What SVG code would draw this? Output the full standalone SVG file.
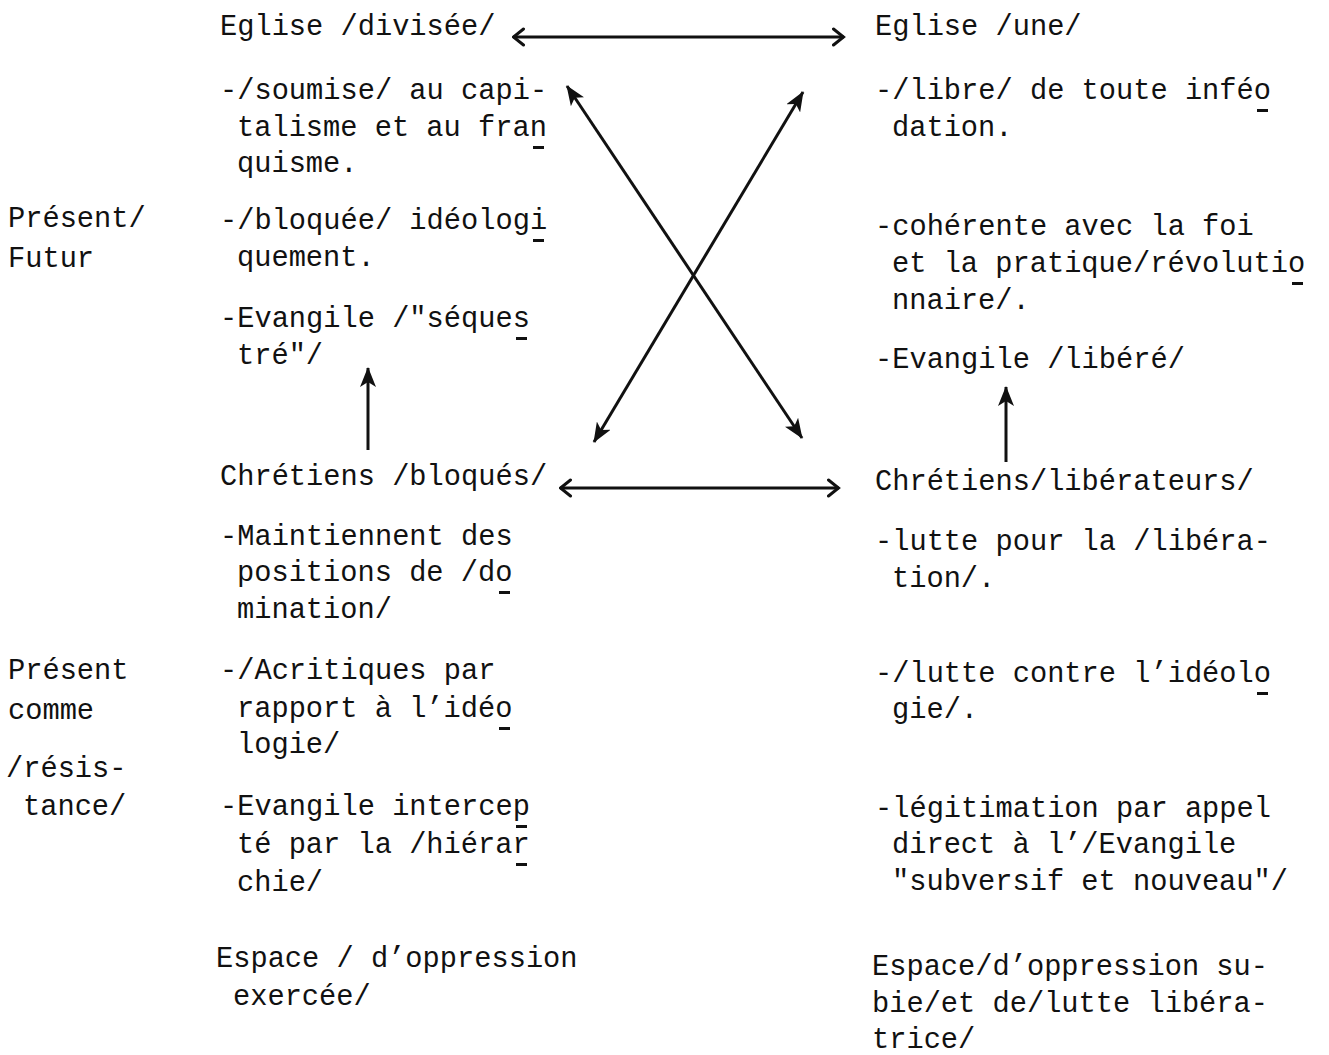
<svg xmlns="http://www.w3.org/2000/svg" width="1329" height="1055" viewBox="0 0 1329 1055">
<style>
text{font-family:"Liberation Mono","DejaVu Sans Mono",monospace;font-size:28.7px;fill:#111;}
.cn line{stroke:#111;stroke-width:3;fill:none;}
.u{fill:#111;}
</style>
<defs>
<marker id="chev" viewBox="0 0 14 20" refX="12.5" refY="10" markerWidth="14" markerHeight="20" markerUnits="userSpaceOnUse" orient="auto-start-reverse">
<path d="M2,2 L12,10 L2,18" fill="none" stroke="#111" stroke-width="3" stroke-linecap="round"/>
</marker>
<marker id="barb" viewBox="0 0 20 16" refX="19" refY="8" markerWidth="20" markerHeight="16" markerUnits="userSpaceOnUse" orient="auto-start-reverse">
<path d="M0,0 L20,8 L0,16 L5,8 z" fill="#111"/>
</marker>
</defs>
<rect width="1329" height="1055" fill="#fff"/>

<g id="label-present-futur">
<text x="8" y="227">Présent/</text>
<text x="8" y="267">Futur</text>
</g>

<g id="label-present-resistance">
<text x="8" y="679">Présent</text>
<text x="8" y="719">comme</text>
<text x="6" y="777">/résis-</text>
<text x="23" y="815">tance/</text>
</g>

<g id="eglise-divisee">
<text x="220" y="35">Eglise /divisée/</text>
<text x="220" y="99">-/soumise/ au capi-</text>
<text x="237" y="136">talisme et au fran</text>
<text x="237" y="172">quisme.</text>
<text x="220" y="229">-/bloquée/ idéologi</text>
<text x="237" y="266">quement.</text>
<text x="220" y="327">-Evangile /&quot;séques</text>
<text x="237" y="364">tré&quot;/</text>
<rect class="u" x="533" y="146" width="11" height="3"/>
<rect class="u" x="533" y="239" width="11" height="3"/>
<rect class="u" x="516" y="337" width="11" height="3"/>
</g>

<g id="eglise-une">
<text x="875" y="35">Eglise /une/</text>
<text x="875" y="99">-/libre/ de toute inféo</text>
<text x="892" y="136">dation.</text>
<text x="875" y="235">-cohérente avec la foi</text>
<text x="892" y="272">et la pratique/révolutio</text>
<text x="892" y="309">nnaire/.</text>
<text x="875" y="368">-Evangile /libéré/</text>
<rect class="u" x="1257" y="109" width="11" height="3"/>
<rect class="u" x="1292" y="282" width="11" height="3"/>
</g>

<g id="chretiens-bloques">
<text x="220" y="485">Chrétiens /bloqués/</text>
<text x="220" y="545">-Maintiennent des</text>
<text x="237" y="581">positions de /do</text>
<text x="237" y="618">mination/</text>
<text x="220" y="679">-/Acritiques par</text>
<text x="237" y="717">rapport à l’idéo</text>
<text x="237" y="753">logie/</text>
<text x="220" y="815">-Evangile intercep</text>
<text x="237" y="853">té par la /hiérar</text>
<text x="237" y="891">chie/</text>
<rect class="u" x="499" y="591" width="11" height="3"/>
<rect class="u" x="499" y="727" width="11" height="3"/>
<rect class="u" x="516" y="825" width="11" height="3"/>
<rect class="u" x="516" y="863" width="11" height="3"/>
</g>

<g id="chretiens-liberateurs">
<text x="875" y="490">Chrétiens/libérateurs/</text>
<text x="875" y="550">-lutte pour la /libéra-</text>
<text x="892" y="587">tion/.</text>
<text x="875" y="682">-/lutte contre l’idéolo</text>
<text x="892" y="718">gie/.</text>
<text x="875" y="817">-légitimation par appel</text>
<text x="892" y="853">direct à l’/Evangile</text>
<text x="892" y="890">&quot;subversif et nouveau&quot;/</text>
<rect class="u" x="1257" y="692" width="11" height="3"/>
</g>

<g id="espace-oppression-exercee">
<text x="216" y="967">Espace / d’oppression</text>
<text x="233" y="1005">exercée/</text>
</g>

<g id="espace-oppression-subie">
<text x="872" y="975">Espace/d’oppression su-</text>
<text x="872" y="1012">bie/et de/lutte libéra-</text>
<text x="872" y="1048">trice/</text>
</g>

<g id="connectors" class="cn">
<line x1="513" y1="37" x2="844" y2="37" marker-start="url(#chev)" marker-end="url(#chev)"/>
<line x1="560" y1="488" x2="839" y2="488" marker-start="url(#chev)" marker-end="url(#chev)"/>
<line x1="567" y1="86" x2="802" y2="438" marker-start="url(#barb)" marker-end="url(#barb)"/>
<line x1="594" y1="442" x2="803" y2="92" marker-start="url(#barb)" marker-end="url(#barb)"/>
<line x1="368" y1="450" x2="368" y2="368" marker-end="url(#barb)"/>
<line x1="1006" y1="462" x2="1006" y2="387" marker-end="url(#barb)"/>
</g>
</svg>
